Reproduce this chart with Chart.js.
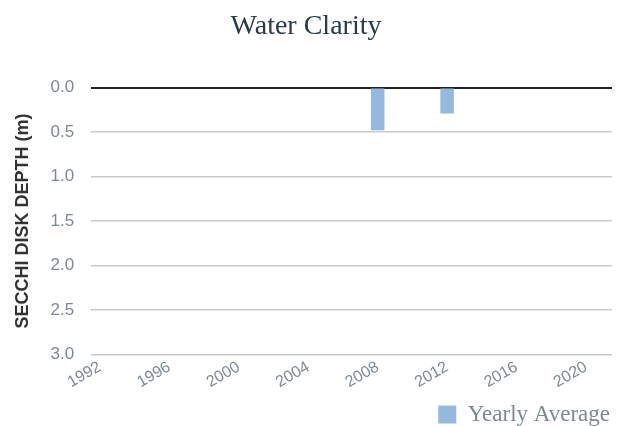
<!DOCTYPE html>
<html lang="en">
<head>
    <meta charset="UTF-8">
    <title>Water Clarity</title>
    <script src="https://cdn.jsdelivr.net/npm/chart.js"></script>
    <style>
        html, body {
            margin: 0;
            padding: 0;
            background: #fff;
        }
        .container {
            width: 621px;
            height: 426px;
        }
    </style>
</head>
<body>
    <div class="container">
        <canvas id="clarityChart"></canvas>
    </div>

    <script>
        // Years on the category axis
        const years = [];
        for (let y = 1992; y <= 2021; y++) years.push(String(y));

        // Secchi depth readings (m), only two years have data
        const depthYears = ['2008', '2012'];
        const depthValues = [0.48, 0.29];

        const yearlyAverage = years.map(y => {
            const i = depthYears.indexOf(y);
            return i >= 0 ? depthValues[i] : null;
        });

        const tickGray = '#7f8994';

        new Chart(document.getElementById('clarityChart'), {
            type: 'bar',
            data: {
                labels: years,
                datasets: [{
                    label: 'Yearly Average',
                    data: yearlyAverage,
                    backgroundColor: '#95b9de',
                    borderWidth: 0,
                    barPercentage: 0.78,
                    categoryPercentage: 1
                }]
            },
            options: {
                responsive: true,
                maintainAspectRatio: false,
                animation: false,
                layout: {
                    autoPadding: false,
                    padding: { left: 0, right: 9, top: 4, bottom: -10 }
                },
                scales: {
                    x: {
                        grid: { display: false },
                        border: { display: false },
                        ticks: {
                            autoSkip: false,
                            maxRotation: 30,
                            minRotation: 30,
                            padding: -5,
                            color: tickGray,
                            font: { family: 'Liberation Sans', size: 16 },
                            callback: function (value, index) {
                                return index % 4 === 0 ? this.getLabelForValue(value) : '';
                            }
                        }
                    },
                    y: {
                        reverse: true,
                        min: 0,
                        max: 3,
                        border: { display: false },
                        grid: {
                            drawTicks: false,
                            color: ctx => {
                                const v = ctx.tick.value;
                                if (v === 0) return '#222';
                                return Math.abs(v * 2 - Math.round(v * 2)) < 1e-6 ? '#c9c9c9' : '#e9e9e9';
                            },
                            lineWidth: ctx => ctx.tick.value === 0 ? 2 : 1.5
                        },
                        ticks: {
                            stepSize: 0.25,
                            padding: 17,
                            color: tickGray,
                            font: { family: 'Liberation Sans', size: 17 },
                            callback: v => Math.abs(v * 2 - Math.round(v * 2)) < 1e-6 ? v.toFixed(1) : ''
                        },
                        title: {
                            display: true,
                            text: 'SECCHI DISK DEPTH (m)',
                            color: '#333',
                            font: { family: 'Liberation Sans', size: 18, weight: 'bold' },
                            padding: { top: 12, bottom: 0 }
                        }
                    }
                },
                plugins: {
                    title: {
                        display: true,
                        text: 'Water Clarity',
                        color: '#2c3a4b',
                        font: { family: 'Liberation Serif', size: 28, weight: 'normal' },
                        padding: { top: 6, bottom: 44 }
                    },
                    legend: {
                        position: 'bottom',
                        align: 'end',
                        // empty title only adds space above the legend row
                        title: {
                            display: true,
                            text: '',
                            font: { size: 10 },
                            padding: { top: 1, bottom: 1 }
                        },
                        labels: {
                            color: tickGray,
                            boxWidth: 18,
                            boxHeight: 18,
                            padding: 2,
                            font: { family: 'Liberation Serif', size: 23 }
                        }
                    },
                    tooltip: { enabled: false }
                }
            }
        });
    </script>
</body>
</html>
